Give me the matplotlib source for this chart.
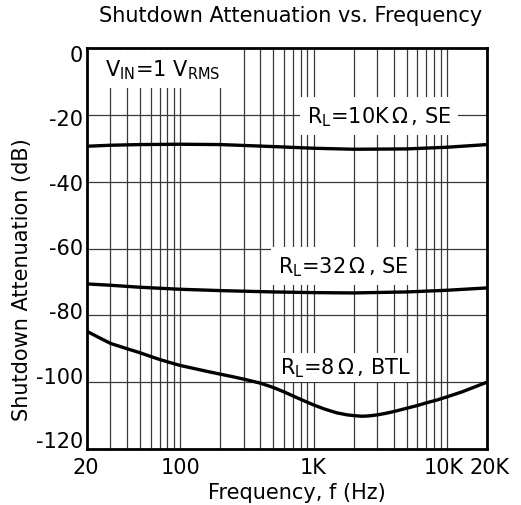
import matplotlib
matplotlib.use('Agg')
import matplotlib.pyplot as plt
import matplotlib.transforms as mtransforms
from matplotlib.ticker import FixedLocator, NullFormatter

plt.rcParams['font.family'] = ['DejaVu Sans']
plt.rcParams['mathtext.fontset'] = 'custom'
plt.rcParams['mathtext.rm'] = 'DejaVu Sans'
plt.rcParams['mathtext.it'] = 'DejaVu Sans:italic'

# data
freq_10k = [20, 30, 50, 100, 200, 500, 1000, 2000, 5000, 10000, 20000]
att_10k = [-29.4, -29.1, -28.9, -28.8, -28.9, -29.5, -30.0, -30.3, -30.2, -29.7, -28.9]

freq_32 = [20, 30, 50, 100, 200, 500, 1000, 2000, 5000, 10000, 20000]
att_32 = [-70.6, -71.0, -71.6, -72.2, -72.6, -73.0, -73.2, -73.3, -73.0, -72.5, -71.8]

freq_8 = [20, 25, 30, 40, 50, 60, 70, 85, 100, 130, 160, 200, 250, 300, 400, 500,
          600, 700, 850, 1000, 1200, 1500, 1800, 2000, 2300, 2600, 3000, 3500, 4000,
          5000, 6000, 7000, 8500, 10000, 13000, 16000, 20000]
att_8 = [-84.8, -86.8, -88.4, -90.0, -91.2, -92.3, -93.2, -94.2, -95.0, -96.0,
         -96.8, -97.6, -98.4, -99.1, -100.3, -101.6, -102.9, -104.1, -105.6, -106.8,
         -108.0, -109.2, -109.8, -110.0, -110.2, -110.1, -109.8, -109.3, -108.8,
         -107.8, -107.0, -106.2, -105.3, -104.4, -102.9, -101.5, -100.0]

xtick_vals = [20, 100, 1000, 10000, 20000]
xtick_labels = ['20', '100', '1K', '10K', '20K']
ytick_vals = [0, -20, -40, -60, -80, -100, -120]

fig = plt.figure(figsize=(5.21, 5.06), dpi=100)
ax = fig.add_axes([87 / 521, 1 - 450 / 506, 400 / 521, 401 / 506])

ax.set_xscale('log')
ax.set_xlim(20, 20000)
ax.set_ylim(-120, 0)

# grid: every 1-2-...-9 per decade, plus every 20 dB
grid_x = [m * 10 ** d for d in range(1, 5) for m in range(1, 10) if 20 < m * 10 ** d < 20000]
for gx in grid_x:
    ax.axvline(gx, color='#383838', lw=0.9, zorder=1)
for gy in ytick_vals[1:-1]:
    ax.axhline(gy, color='#383838', lw=0.9, zorder=1)

ax.plot(freq_10k, att_10k, color='black', lw=2.4, zorder=5)
ax.plot(freq_32, att_32, color='black', lw=2.4, zorder=5)
ax.plot(freq_8, att_8, color='black', lw=2.4, zorder=5)

ax.xaxis.set_major_locator(FixedLocator(xtick_vals))
ax.set_xticklabels(xtick_labels)
ax.xaxis.set_minor_formatter(NullFormatter())
ax.set_yticks(ytick_vals)
ax.set_yticklabels([str(v) for v in ytick_vals])
ax.tick_params(axis='both', which='both', length=0, labelsize=15)
ax.tick_params(axis='x', pad=6)
ax.tick_params(axis='y', pad=3)

# small nudges of tick labels, as in the reference
for tick, v in zip(ax.yaxis.get_major_ticks(), ytick_vals):
    down_px = 5 - 15 * (-v) / 120
    off = mtransforms.ScaledTranslation(0, -down_px / 100, fig.dpi_scale_trans)
    tick.label1.set_transform(tick.label1.get_transform() + off)
for tick, dx in zip(ax.xaxis.get_major_ticks(), [-1, 0, 0, -3, 3]):
    off = mtransforms.ScaledTranslation(dx / 100, 0, fig.dpi_scale_trans)
    tick.label1.set_transform(tick.label1.get_transform() + off)

for s in ax.spines.values():
    s.set_linewidth(2)
    s.set_zorder(6)

box = dict(facecolor='white', edgecolor='none', pad=5)
ax.text(27.3, -6.3, r'V$_\mathregular{IN}$=1 V$_\mathregular{RMS}$', fontsize=15,
        va='center', ha='left', bbox=box, zorder=4)
ax.text(894, -20.3, r'R$_\mathregular{L}$=10K$\,\Omega\,$, SE', fontsize=15,
        va='center', ha='left', bbox=box, zorder=4)
ax.text(540, -65.2, r'R$_\mathregular{L}$=32$\,\Omega\,$, SE', fontsize=15,
        va='center', ha='left', bbox=box, zorder=4)
ax.text(561, -95.5, r'R$_\mathregular{L}$=8$\,\Omega\,$, BTL', fontsize=15,
        va='center', ha='left', bbox=dict(facecolor='white', edgecolor='none', pad=2),
        zorder=4)

fig.text(291 / 521, 1 - 16 / 506, 'Shutdown Attenuation vs. Frequency', fontsize=15,
         ha='center', va='center')
fig.text(297 / 521, 1 - 493 / 506, 'Frequency, f (Hz)', fontsize=15,
         ha='center', va='center')
fig.text(22 / 521, 1 - 280 / 506, 'Shutdown Attenuation (dB)', fontsize=15,
         ha='center', va='center', rotation=90)

fig.savefig('out.png', dpi=100)
